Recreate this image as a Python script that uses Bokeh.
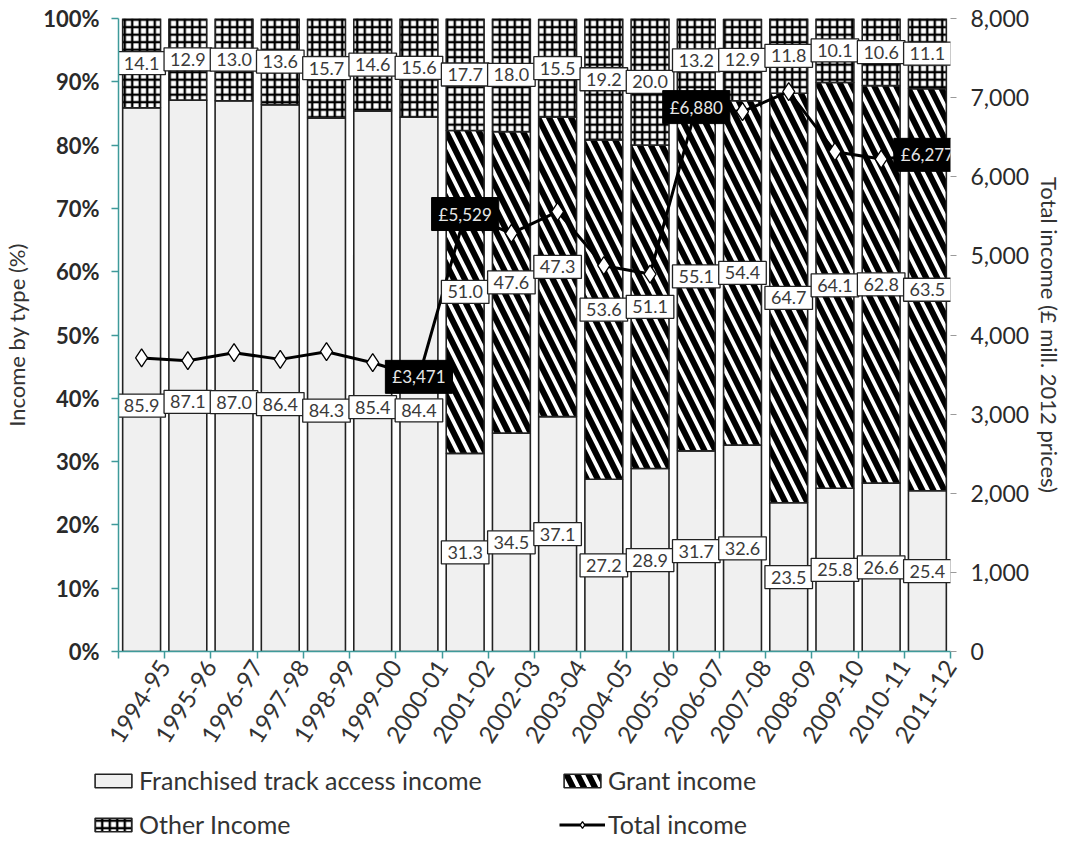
import numpy as np
from bokeh.plotting import figure
from bokeh.layouts import column
from bokeh.models import (ColumnDataSource, LinearAxis, Range1d, FixedTicker, Legend,
                          LegendItem, PrintfTickFormatter, NumeralTickFormatter)
from bokeh.core.properties import value
from bokeh.embed import file_html
from bokeh.resources import INLINE

# ---------------- data ----------------
years = ["1994-95", "1995-96", "1996-97", "1997-98", "1998-99", "1999-00", "2000-01",
         "2001-02", "2002-03", "2003-04", "2004-05", "2005-06", "2006-07", "2007-08",
         "2008-09", "2009-10", "2010-11", "2011-12"]
franchised = [85.9, 87.1, 87.0, 86.4, 84.3, 85.4, 84.4, 31.3, 34.5, 37.1, 27.2, 28.9,
              31.7, 32.6, 23.5, 25.8, 26.6, 25.4]
grant = [0, 0, 0, 0, 0, 0, 0, 51.0, 47.6, 47.3, 53.6, 51.1, 55.1, 54.4, 64.7, 64.1,
         62.8, 63.5]
other = [14.1, 12.9, 13.0, 13.6, 15.7, 14.6, 15.6, 17.7, 18.0, 15.5, 19.2, 20.0, 13.2,
         12.9, 11.8, 10.1, 10.6, 11.1]
total_income = [3710, 3675, 3776, 3692, 3789, 3650, 3471, 5529, 5284, 5559, 4876, 4770,
                6880, 6823, 7076, 6317, 6224, 6277]
highlighted_years = ["2000-01", "2001-02", "2006-07", "2011-12"]
legend_labels = ["Franchised track access income", "Grant income", "Other Income",
                 "Total income"]

FONT = "Lato"
TEAL = "#3f9a9a"
TXT = "#333333"

n = len(years)
idx = np.arange(n)
xs = idx + 0.5          # category centres; boundaries fall on integers
f = np.array(franchised)
g = np.array(grant)
o = np.array(other)
g_top = f + g
o_top = g_top + o

src = ColumnDataSource(dict(x=xs, f=f, g_bot=f, g_top=g_top, o_bot=g_top, o_top=o_top,
                            total=total_income))

p = figure(frame_width=832, frame_height=633, x_range=Range1d(0, n),
           y_range=Range1d(0, 100), output_backend="svg", toolbar_location=None,
           min_border_left=112, min_border_right=112, min_border_top=18,
           min_border_bottom=105)
p.extra_y_ranges = {"total": Range1d(0, 8000)}
p.xgrid.visible = False
p.ygrid.visible = False
p.outline_line_color = None
p.background_fill_color = "white"

F_STYLE = dict(fill_color="#f0f0f0", line_color="#222222", line_width=1.6)
G_STYLE = dict(fill_color="white", hatch_pattern="\\", hatch_color="black", hatch_weight=6,
               hatch_scale=22, line_color="#222222", line_width=1.6)
O_STYLE = dict(fill_color="white", hatch_pattern="+", hatch_color="black", hatch_weight=2.4,
               hatch_scale=7.5, line_color="#222222", line_width=1.6)
L_STYLE = dict(line_color="black", line_width=3)
M_STYLE = dict(marker="diamond", size=18, fill_color="white", line_color="black",
               line_width=1.3)

# bars
BW = 0.82
p.vbar(x="x", width=BW, bottom=0, top="f", source=src, **F_STYLE)
p.vbar(x="x", width=BW, bottom="g_bot", top="g_top", source=src, **G_STYLE)
p.vbar(x="x", width=BW, bottom="o_bot", top="o_top", source=src, **O_STYLE)

# total income line
p.line(x="x", y="total", source=src, y_range_name="total", **L_STYLE)
p.scatter(x="x", y="total", source=src, y_range_name="total", **M_STYLE)

# value labels (white boxes)
lab_x, lab_y, lab_t, lab_off = [], [], [], []
for i in range(n):
    lab_x.append(xs[i]); lab_y.append(f[i] / 2); lab_t.append(f"{f[i]:.1f}")
    lab_off.append(26 if g[i] == 0 else 0)
    if g[i] > 0:
        lab_x.append(xs[i]); lab_y.append(f[i] + g[i] / 2); lab_t.append(f"{g[i]:.1f}")
        lab_off.append(0)
    lab_x.append(xs[i]); lab_y.append(g_top[i] + o[i] / 2); lab_t.append(f"{o[i]:.1f}")
    lab_off.append(0)
lsrc = ColumnDataSource(dict(x=lab_x, y=lab_y, t=lab_t, off=lab_off))
p.text(x="x", y="y", text="t", source=lsrc, y_offset="off", text_align="center",
       text_baseline="middle", text_font=value(FONT), text_font_size="18px",
       text_color="#3a3a3a", background_fill_color="white", border_line_color="#222222",
       border_line_width=1.3, padding=[6, 6, 5, 5])

# total labels (black boxes)
hi = [years.index(y) for y in highlighted_years]
hsrc = ColumnDataSource(dict(x=[xs[i] for i in hi], y=[total_income[i] for i in hi],
                             t=[f"£{total_income[i]:,}" for i in hi]))
p.text(x="x", y="y", text="t", source=hsrc, y_range_name="total", text_align="center",
       text_baseline="middle", text_font=value(FONT), text_font_size="17px",
       text_color="#e6e6e6", background_fill_color="black", border_line_color="black",
       padding=[7, 7, 6, 6])

# left axis
ya = p.yaxis[0]
ya.ticker = FixedTicker(ticks=list(range(0, 101, 10)))
ya.formatter = PrintfTickFormatter(format="%d%%")
ya.axis_line_color = TEAL
ya.axis_line_width = 1.5
ya.major_tick_line_color = TEAL
ya.major_tick_line_width = 1.5
ya.major_tick_out = 7
ya.major_tick_in = 0
ya.minor_tick_line_color = None
ya.major_label_standoff = 12
ya.major_label_text_font = FONT
ya.major_label_text_font_size = "22px"
ya.major_label_text_color = "#2a2a2a"
ya.major_label_text_font_style = "bold"
ya.axis_label = "Income by type (%)"
ya.axis_label_standoff = 10
ya.axis_label_text_font = FONT
ya.axis_label_text_font_size = "22px"
ya.axis_label_text_font_style = "normal"
ya.axis_label_text_color = TXT

# right axis
ra = LinearAxis(y_range_name="total", ticker=FixedTicker(ticks=list(range(0, 8001, 1000))),
                formatter=NumeralTickFormatter(format="0,0"))
ra.axis_line_color = None
ra.major_tick_line_color = "#9a9a9a"
ra.major_tick_out = 6
ra.major_tick_in = 0
ra.minor_tick_line_color = None
ra.major_label_standoff = 14
ra.major_label_text_font = FONT
ra.major_label_text_font_size = "23px"
ra.major_label_text_color = "#2a2a2a"
ra.axis_label = "Total income (£ mill. 2012 prices)"
ra.axis_label_standoff = 4
ra.axis_label_text_font = FONT
ra.axis_label_text_font_size = "22px"
ra.axis_label_text_font_style = "normal"
ra.axis_label_text_color = TXT
p.add_layout(ra, "right")

# bottom axis: tick marks on category boundaries, each label ends at its right boundary
xa = p.xaxis[0]
xa.ticker = FixedTicker(ticks=list(range(n + 1)))
xa.major_label_overrides = {0: ""} | {int(i) + 1: years[i] for i in idx}
xa.major_label_orientation = 1.0
xa.major_tick_line_color = TEAL
xa.major_tick_line_width = 1.5
xa.major_tick_out = 7
xa.major_tick_in = 0
xa.minor_tick_line_color = None
xa.axis_line_color = TEAL
xa.axis_line_width = 1.5
xa.major_label_standoff = 4
xa.major_label_text_font = FONT
xa.major_label_text_font_size = "24px"
xa.major_label_text_color = TXT

# ---------------- legend strip (separate figure under the chart) ----------------
q = figure(frame_width=1056, frame_height=83, x_range=Range1d(0, 1), y_range=Range1d(0, 1),
           x_axis_type=None, y_axis_type=None, output_backend="svg", toolbar_location=None,
           min_border=0)
q.outline_line_color = None
q.xgrid.visible = False
q.ygrid.visible = False
# proxy glyphs for the legend swatches, kept outside the visible range of this strip
proxy = ColumnDataSource(dict(x=[5, 6], y=[5, 5], b=[5, 5], t=[6, 6]))
q_f = q.vbar(x="x", width=0.1, bottom="b", top="t", source=proxy, **F_STYLE)
q_g = q.vbar(x="x", width=0.1, bottom="b", top="t", source=proxy, **G_STYLE)
q_o = q.vbar(x="x", width=0.1, bottom="b", top="t", source=proxy, **O_STYLE)
q_l = q.line(x="x", y="y", source=proxy, **L_STYLE)
q_m = q.scatter(x="x", y="y", source=proxy, **dict(M_STYLE, size=14))

legend = Legend(items=[
    LegendItem(label=legend_labels[0], renderers=[q_f], index=0),
    LegendItem(label=legend_labels[1], renderers=[q_g], index=0),
    LegendItem(label=legend_labels[2], renderers=[q_o], index=0),
    LegendItem(label=legend_labels[3], renderers=[q_l, q_m], index=0),
], orientation="horizontal", ncols=2, location=(90, 0))
legend.label_text_font = FONT
legend.label_text_font_size = "25px"
legend.label_text_color = TXT
legend.glyph_width = 46
legend.glyph_height = 17
legend.label_width = 406
legend.label_height = 26
legend.label_standoff = 3
legend.spacing = 14
legend.border_line_color = None
legend.background_fill_alpha = 0
legend.margin = 0
legend.padding = 2
q.add_layout(legend, "center")

open("out.html", "w").write(file_html(column(p, q), INLINE))
